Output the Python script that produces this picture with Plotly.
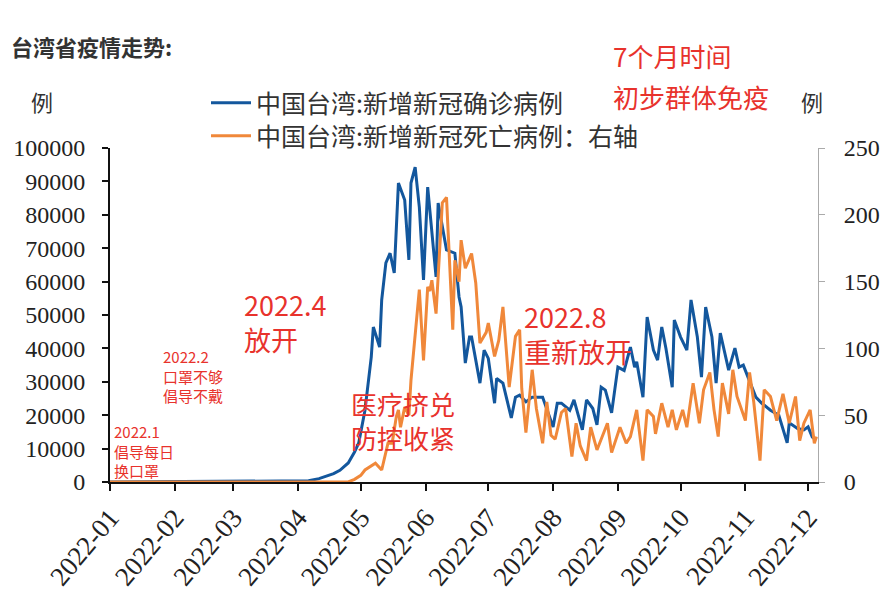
import plotly.graph_objects as go

# ---------------- data ----------------
case_dates = [
    "2022-01-01", "2022-01-15", "2022-02-01", "2022-02-15", "2022-03-01", "2022-03-15",
    "2022-04-01", "2022-04-06", "2022-04-11", "2022-04-15", "2022-04-18", "2022-04-21",
    "2022-04-25", "2022-04-28", "2022-04-30", "2022-05-03", "2022-05-06", "2022-05-07",
    "2022-05-10", "2022-05-11", "2022-05-13", "2022-05-15", "2022-05-17", "2022-05-19",
    "2022-05-22", "2022-05-24", "2022-05-25", "2022-05-27", "2022-05-29", "2022-05-31",
    "2022-06-02", "2022-06-06", "2022-06-07", "2022-06-11", "2022-06-15", "2022-06-17",
    "2022-06-18", "2022-06-20", "2022-06-22", "2022-06-23", "2022-06-27", "2022-06-29",
    "2022-07-01", "2022-07-04", "2022-07-05", "2022-07-08", "2022-07-12", "2022-07-14",
    "2022-07-16", "2022-07-19", "2022-07-22", "2022-07-27", "2022-08-01", "2022-08-03",
    "2022-08-05", "2022-08-09", "2022-08-11", "2022-08-15", "2022-08-17", "2022-08-20",
    "2022-08-22", "2022-08-24", "2022-08-26", "2022-08-29", "2022-09-01", "2022-09-04",
    "2022-09-07", "2022-09-09", "2022-09-10", "2022-09-13", "2022-09-15", "2022-09-18",
    "2022-09-20", "2022-09-22", "2022-09-24", "2022-09-27", "2022-09-28", "2022-10-01",
    "2022-10-04", "2022-10-06", "2022-10-08", "2022-10-09", "2022-10-11", "2022-10-13",
    "2022-10-16", "2022-10-18", "2022-10-20", "2022-10-23", "2022-10-24", "2022-10-27",
    "2022-10-29", "2022-10-31", "2022-11-03", "2022-11-06", "2022-11-09", "2022-11-13",
    "2022-11-17", "2022-11-21", "2022-11-22", "2022-11-26", "2022-11-29", "2022-12-01",
    "2022-12-03", "2022-12-05",
]
case_values = [
    20, 60, 40, 50, 60, 90,
    200, 350, 1000, 1800, 2500, 3500,
    5700, 9000, 11700, 21500, 37400, 46400,
    40400, 54500, 65600, 68500, 62600, 89500,
    84400, 66500, 89500, 94300, 82300, 60500,
    88300, 61400, 83500, 69500, 68500, 55400,
    52400, 35600, 43400, 43400, 29600, 39500,
    37000, 23600, 31000, 29600, 19200, 25400,
    26000, 24000, 25400, 25400, 16500, 23600,
    23600, 21500, 24600, 15600, 24600, 22000,
    17100, 28400, 27500, 20700, 34400, 33400,
    40400, 34400, 36000, 25400, 49400, 39500,
    36500, 46400, 40000, 28400, 48500, 43400,
    39500, 54500, 46400, 43500, 31400, 52400,
    43400, 29600, 44600, 36500, 33500, 40100,
    34400, 35000, 30000, 25400, 23500, 21500,
    20000, 11700, 17700, 16000, 15600, 16500,
    13500, 12600,
]

death_dates = [
    "2022-01-01", "2022-02-01", "2022-03-01", "2022-04-01", "2022-04-25", "2022-04-28",
    "2022-05-01", "2022-05-03", "2022-05-08", "2022-05-11", "2022-05-13", "2022-05-14",
    "2022-05-16", "2022-05-18", "2022-05-19", "2022-05-20", "2022-05-22", "2022-05-24",
    "2022-05-25", "2022-05-27", "2022-05-29", "2022-05-31", "2022-06-02", "2022-06-03",
    "2022-06-04", "2022-06-06", "2022-06-07", "2022-06-09", "2022-06-11", "2022-06-12",
    "2022-06-14", "2022-06-15", "2022-06-17", "2022-06-18", "2022-06-20", "2022-06-23",
    "2022-06-25", "2022-06-27", "2022-06-30", "2022-07-01", "2022-07-04", "2022-07-06",
    "2022-07-08", "2022-07-11", "2022-07-14", "2022-07-16", "2022-07-17", "2022-07-19",
    "2022-07-21", "2022-07-22", "2022-07-24", "2022-07-27", "2022-07-29", "2022-07-31",
    "2022-08-02", "2022-08-05", "2022-08-07", "2022-08-10", "2022-08-12", "2022-08-14",
    "2022-08-17", "2022-08-19", "2022-08-22", "2022-08-24", "2022-08-27", "2022-08-29",
    "2022-09-02", "2022-09-05", "2022-09-07", "2022-09-10", "2022-09-13", "2022-09-15",
    "2022-09-18", "2022-09-19", "2022-09-22", "2022-09-25", "2022-09-27", "2022-09-29",
    "2022-10-02", "2022-10-04", "2022-10-07", "2022-10-10", "2022-10-12", "2022-10-15",
    "2022-10-17", "2022-10-19", "2022-10-21", "2022-10-24", "2022-10-26", "2022-10-28",
    "2022-11-01", "2022-11-03", "2022-11-05", "2022-11-08", "2022-11-10", "2022-11-13",
    "2022-11-16", "2022-11-19", "2022-11-22", "2022-11-25", "2022-11-27", "2022-11-29",
    "2022-12-02", "2022-12-04", "2022-12-05",
]
death_values = [
    0, 0, 0, 0, 0, 2,
    5, 9, 14, 9, 24, 29,
    29, 49, 54, 41, 56, 50,
    76, 109, 144, 91, 146, 143,
    151, 126, 153, 209, 213, 183,
    114, 166, 150, 181, 160, 171,
    149, 104, 112, 119, 94, 106,
    131, 71, 109, 114, 70, 37,
    70, 84, 55, 29, 60, 35,
    32, 52, 55, 19, 44, 27,
    16, 41, 24, 32, 44, 22,
    41, 29, 34, 54, 16, 54,
    49, 36, 59, 41, 54, 39,
    54, 41, 74, 44, 69, 82,
    54, 34, 74, 51, 84, 64,
    46, 82, 60, 16, 69, 64,
    46, 66, 44, 64, 31, 44,
    54, 29, 34,
]

case_name = "中国台湾:新增新冠确诊病例"
death_name = "中国台湾:新增新冠死亡病例：右轴"
month_ticks = ["2022-01-01", "2022-02-01", "2022-03-01", "2022-04-01", "2022-05-01",
               "2022-06-01", "2022-07-01", "2022-08-01", "2022-09-01", "2022-10-01",
               "2022-11-01", "2022-12-01"]
month_labels = ["2022-01", "2022-02", "2022-03", "2022-04", "2022-05", "2022-06",
                "2022-07", "2022-08", "2022-09", "2022-10", "2022-11", "2022-12"]
left_ticks = [0, 10000, 20000, 30000, 40000, 50000, 60000, 70000, 80000, 90000, 100000]
left_labels = ["0", "10000", "20000", "30000", "40000", "50000", "60000", "70000",
               "80000", "90000", "100000"]
right_ticks = [0, 50, 100, 150, 200, 250]
right_labels = ["0", "50", "100", "150", "200", "250"]

# ---------------- layout helpers (screen pixel targets) ----------------
OFF = 8                      # page body margin added by the html page
W, H = 874, 582              # figure size (fits in the window with the body margin)
L, R, T, B = 110, 818, 148, 482   # plot area edges on screen


def px(x):
    return (x - L) / (R - L)


def py(y):
    return (B - y) / (B - T)


BLUE = "#13579d"
ORANGE = "#f0883a"
RED = "#e8322c"
CJK = "Noto Sans CJK SC"
SERIF = "Liberation Serif"

fig = go.Figure()
fig.add_trace(go.Scatter(x=case_dates, y=case_values, name=case_name, mode="lines",
                         line=dict(color=BLUE, width=3), yaxis="y", legend="legend"))
fig.add_trace(go.Scatter(x=death_dates, y=death_values, name=death_name, mode="lines",
                         line=dict(color=ORANGE, width=3), yaxis="y2", legend="legend2"))

annots = []


def txt(s, x, y, size, color=RED, bold=False, font=CJK):
    annots.append(dict(text=("<b>%s</b>" % s) if bold else s, xref="paper", yref="paper",
                       x=px(x), y=py(y), xanchor="left", yanchor="middle", align="left",
                       showarrow=False, font=dict(family=font, size=size, color=color)))


txt("台湾省疫情走势:", 9, 46, 22, color="#333333", bold=True)
txt("例", 29, 101, 22, color="#333333")
txt("例", 799, 101, 22, color="#333333")
txt("7个月时间", 611, 55, 26)
txt("初步群体免疫", 611, 96, 26)
txt("2022.4<br>放开", 242, 322, 27)
txt("2022.2<br>口罩不够<br>倡导不戴", 161, 376, 15)
txt("2022.1<br>倡导每日<br>换口罩", 112, 451, 15)
txt("医疗挤兑<br>防控收紧", 349, 420, 26)
txt("2022.8<br>重新放开", 522, 334, 27)

legend_style = dict(xanchor="left", yanchor="top", bgcolor="rgba(0,0,0,0)",
                    font=dict(family=CJK, size=25, color="#333333"), itemwidth=40)

fig.update_layout(
    width=W, height=H,
    margin=dict(l=L - OFF, r=W - (R - OFF), t=T - OFF, b=H - (B - OFF), pad=0,
                autoexpand=False),
    paper_bgcolor="white", plot_bgcolor="white",
    showlegend=True,
    legend=dict(x=px(206), y=py(80), **legend_style),
    legend2=dict(x=px(206), y=py(113), **legend_style),
    annotations=annots,
    xaxis=dict(type="date", range=["2022-01-01", "2022-12-05 18:00"], automargin=False,
               tickmode="array", tickvals=month_ticks, ticktext=month_labels,
               tickangle=-50, tickfont=dict(family=SERIF, size=27, color="#222222"),
               showgrid=False, zeroline=False, showline=True, linecolor="#111111",
               linewidth=2, ticks="outside", ticklen=7, tickwidth=2, tickcolor="#111111"),
    yaxis=dict(range=[0, 100000], tickmode="array", tickvals=left_ticks, ticktext=left_labels,
               automargin=False,
               tickfont=dict(family=SERIF, size=24, color="#222222"), ticklabelstandoff=12,
               showgrid=False, zeroline=False, showline=True, linecolor="#111111",
               linewidth=2, ticks="outside", ticklen=6, tickwidth=2, tickcolor="#111111"),
    yaxis2=dict(range=[0, 250], overlaying="y", side="right", tickmode="array",
                tickvals=right_ticks, ticktext=right_labels, automargin=False,
                tickfont=dict(family=SERIF, size=24, color="#222222"), ticklabelstandoff=14,
                showgrid=False, zeroline=False, showline=True, linecolor="#aaaaaa",
                linewidth=1, ticks="outside", ticklen=6, tickwidth=1, tickcolor="#aaaaaa"),
)

fig.write_html("out.html")
